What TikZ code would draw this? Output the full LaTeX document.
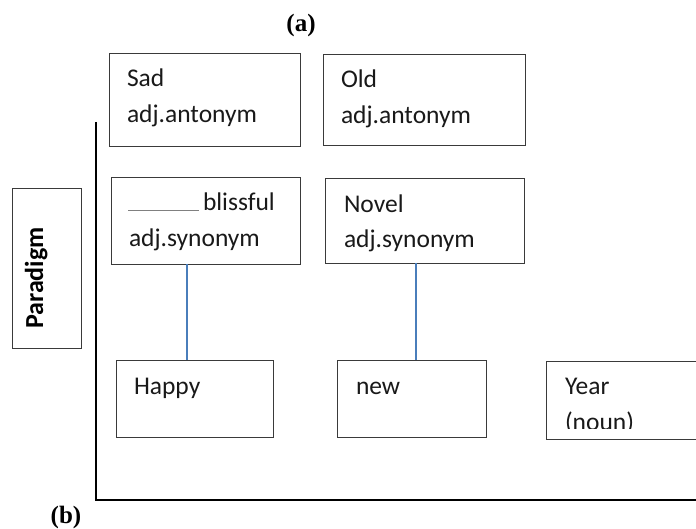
\documentclass[tikz,border=0pt]{standalone}
\usepackage{fontspec}
\setmainfont{Carlito}
\newfontfamily\timesfont{Liberation Serif}
\usetikzlibrary{calc}
\definecolor{boxline}{HTML}{3A3A3A}
\definecolor{linkblue}{HTML}{4A7EBB}
\tikzset{
  wbox/.style={draw=boxline, line width=0.9pt, rectangle, inner sep=0pt, outer sep=0pt, anchor=north west},
  txt/.style={inner sep=0pt, outer sep=0pt, anchor=base west, font=\fontsize{25.5}{30}\selectfont, text=black!90},
  conn/.style={draw=linkblue, line width=1.1pt},
  axis/.style={draw=black, line width=1.4pt},
  tag/.style={inner sep=0pt, anchor=base, font=\timesfont\bfseries\fontsize{25}{30}\selectfont}
}
\begin{document}
\begin{tikzpicture}[x=1pt,y=-1pt]
\useasboundingbox (0,0) rectangle (696,529);
\clip (0,0) rectangle (696,529);
% title labels
\node[tag] (la) at (301,32) {(a)};
\node[tag] (lb) at (66,523) {(b)};
% axes
\coordinate (ytop) at (96,122);
\coordinate (origin) at (96,500);
\coordinate (xend) at (700,500);
\draw[axis] (ytop) -- (origin) -- (xend);
% paradigm box
\node[wbox, minimum width=69pt, minimum height=160pt] (para) at (12,188) {};
\node[inner sep=0pt, rotate=90, anchor=base, font=\bfseries\fontsize{26}{30}\selectfont] (parat) at (43,278) {Paradigm};
% antonym boxes
\node[wbox, minimum width=191pt, minimum height=93pt] (sad) at (109,53) {};
\node[txt] (sadt) at (127,87) {Sad};
\node[txt] (sadt2) at (127,123) {adj.antonym};
\node[wbox, minimum width=202pt, minimum height=91pt] (old) at (323,54) {};
\node[txt] (oldt) at (341,88) {Old};
\node[txt] (oldt2) at (341,124) {adj.antonym};
% synonym boxes
\node[wbox, minimum width=189pt, minimum height=87pt] (bliss) at (111,177) {};
\node[txt] (blisst) at (128,211) {{\color{gray}\rule[0pt]{71pt}{0.8pt}}\hspace{4pt}blissful};
\node[txt] (blisst2) at (129,247) {adj.synonym};
\node[wbox, minimum width=199pt, minimum height=85pt] (novel) at (325,178) {};
\node[txt] (novelt) at (344,213) {Novel};
\node[txt] (novelt2) at (344,248) {adj.synonym};
% bottom boxes
\node[wbox, minimum width=157pt, minimum height=77pt] (happy) at (116,360) {};
\node[txt] (happyt) at (134,394) {Happy};
\node[wbox, minimum width=149pt, minimum height=77pt] (new) at (337,360) {};
\node[txt] (newt) at (356,394) {new};
\node[wbox, minimum width=170pt, minimum height=78pt] (year) at (546,361) {};
\node[txt] (yeart) at (565,394) {Year};
\begin{scope}
\clip (546,361) rectangle (700,428.5);
\node[txt] (yeart2) at (565,430) {(noun)};
\end{scope}
% connectors
\draw[conn] ([xshift=-18.5pt]bliss.south) -- ([xshift=-7.5pt]happy.north);
\draw[conn] ([xshift=-8.5pt]novel.south) -- ([xshift=4.5pt]new.north);
\end{tikzpicture}
\end{document}
